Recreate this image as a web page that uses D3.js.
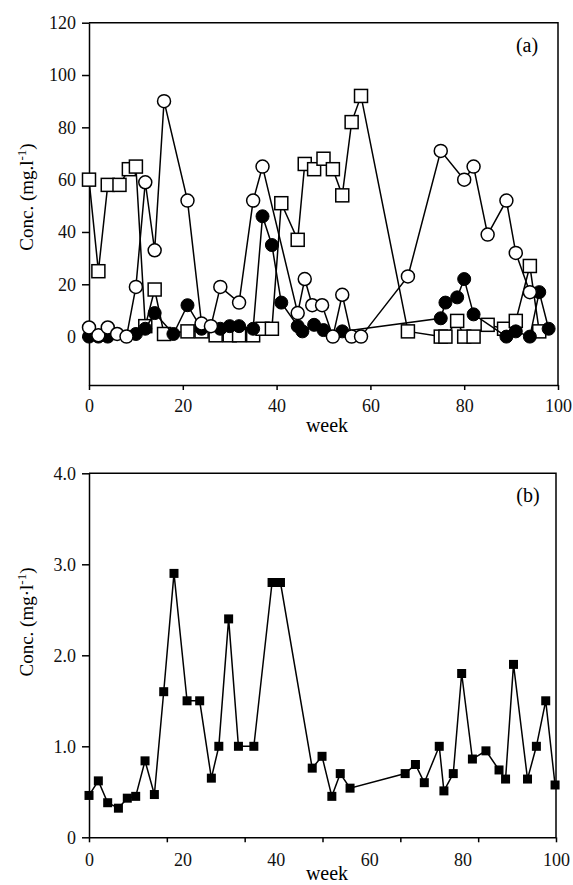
<!DOCTYPE html>
<html>
<head>
<meta charset="utf-8">
<script src="https://cdn.jsdelivr.net/npm/d3@7"></script>
<style>
  body { margin: 0; background: #fff; }
  svg { display: block; font-family: "Liberation Serif", "Times New Roman", serif; }
  .axis path, .axis line { stroke: #000; stroke-width: 1.5; }
  .axis text { font-family: "Liberation Serif", serif; font-size: 18px; fill: #111; }
</style>
</head>
<body>
<div id="chart"></div>
<script>
// panel (a) data - three series
var weeksSquare = [0, 2, 4, 6.5, 8.5, 10, 12, 14, 16, 21, 24, 27, 30, 32, 35, 37, 39, 41, 44.5, 46, 48, 50, 52, 54, 56, 58, 68, 75, 76, 78.5, 80, 82, 85, 88.5, 91, 94, 96];
var concSquare  = [60, 25, 58, 58, 64, 65, 4, 18, 1, 2, 2, 0.5, 0.5, 0.5, 0.5, 3, 3, 51, 37, 66, 64, 68, 64, 54, 82, 92, 2, 0, 0, 6, 0, 0, 4.5, 3, 6, 27, 2];

var weeksFilled = [0, 2, 4, 10, 12, 14, 18, 21, 24, 28, 30, 32, 35, 37, 39, 41, 44.5, 45.5, 48, 50, 54, 75, 76, 78.5, 80, 82, 89, 91, 94, 96, 98];
var concFilled  = [0, 0, 0, 1, 3, 9, 1, 12, 3, 3, 4, 4, 3, 46, 35, 13, 4, 2, 4.5, 2.5, 2, 7, 13, 15, 22, 8.5, 0, 2, 0, 17, 3];

var weeksOpen = [0, 2, 4, 6, 8, 10, 12, 14, 16, 21, 24, 26, 28, 32, 35, 37, 44.5, 46, 47.6, 49.7, 52, 54, 56, 58, 68, 75, 80, 82, 85, 89, 91, 94];
var concOpen  = [3.5, 0.5, 3.5, 1, 0, 19, 59, 33, 90, 52, 5, 4, 19, 13, 52, 65, 9, 22, 12, 12, 0, 16, 0, 0, 23, 71, 60, 65, 39, 52, 32, 17];

// panel (b) data
var weeksB = [0, 2, 4, 6.3, 8.2, 10, 12, 14, 16, 18.2, 21, 23.7, 26.2, 27.8, 29.9, 32, 35.3, 39.2, 41, 47.8, 49.9, 52, 53.8, 55.9, 67.7, 69.9, 71.8, 75, 76, 78, 79.8, 82.1, 85, 87.8, 89.2, 90.9, 93.9, 95.8, 97.8, 99.8];
var concB  = [0.46, 0.62, 0.38, 0.32, 0.43, 0.45, 0.84, 0.47, 1.6, 2.9, 1.5, 1.5, 0.65, 1.0, 2.4, 1.0, 1.0, 2.8, 2.8, 0.76, 0.89, 0.45, 0.70, 0.54, 0.70, 0.80, 0.60, 1.0, 0.51, 0.70, 1.80, 0.86, 0.95, 0.74, 0.64, 1.90, 0.64, 1.0, 1.5, 0.575];

// tick labels
var xTicks = [0, 20, 40, 60, 80, 100];
var yTicksA = [0, 20, 40, 60, 80, 100, 120];
var yTicksB = [0, 1, 2, 3, 4];

var svgWidth = 573;
var svgHeight = 885;

var svg = d3.select("#chart")
  .append("svg")
  .attr("width", svgWidth)
  .attr("height", svgHeight);

function zip(xs, ys) {
  return xs.map(function(x, i) { return { week: x, conc: ys[i] }; });
}

// frame: axes + top/right lines
function frame(x, y) {
  var x0 = x.range()[0], x1 = x.range()[1];
  var y0 = y.range()[0], y1 = y.range()[1];
  svg.append("path")
    .attr("d", `M${x0},${y1}H${x1}V${y0}`)
    .attr("fill", "none")
    .attr("stroke", "#000")
    .attr("stroke-width", 1.5);
}

// ---------------- panel (a) ----------------
var xA = d3.scaleLinear().domain([0, 100]).range([89, 558]);
var yA = d3.scaleLinear().domain([-18.5, 120]).range([385, 22.7]);

svg.append("g")
  .attr("class", "axis")
  .attr("transform", `translate(0, ${yA.range()[0]})`)
  .call(d3.axisBottom(xA).tickValues(xTicks).tickSize(5).tickPadding(9).tickSizeOuter(0));

svg.append("g")
  .attr("class", "axis")
  .attr("transform", `translate(${xA.range()[0]}, 0)`)
  .call(d3.axisLeft(yA).tickValues(yTicksA).tickSize(7).tickPadding(6).tickSizeOuter(0));

frame(xA, yA);

var lineA = d3.line().x(d => xA(d.week)).y(d => yA(d.conc));

// squares
var sq = zip(weeksSquare, concSquare);
svg.append("path").datum(sq)
  .attr("d", lineA).attr("fill", "none").attr("stroke", "#000").attr("stroke-width", 1.5);
svg.selectAll(".sqA").data(sq).enter().append("rect")
  .attr("class", "sqA")
  .attr("x", d => xA(d.week) - 6.5)
  .attr("y", d => yA(d.conc) - 6.5)
  .attr("width", 13).attr("height", 13)
  .attr("fill", "#fff").attr("stroke", "#000").attr("stroke-width", 1.5);

// filled circles
var fc = zip(weeksFilled, concFilled);
svg.append("path").datum(fc)
  .attr("d", lineA).attr("fill", "none").attr("stroke", "#000").attr("stroke-width", 1.5);
svg.selectAll(".fcA").data(fc).enter().append("circle")
  .attr("class", "fcA")
  .attr("cx", d => xA(d.week))
  .attr("cy", d => yA(d.conc))
  .attr("r", 6.5)
  .attr("fill", "#000").attr("stroke", "#000").attr("stroke-width", 1);

// open circles
var oc = zip(weeksOpen, concOpen);
svg.append("path").datum(oc)
  .attr("d", lineA).attr("fill", "none").attr("stroke", "#000").attr("stroke-width", 1.5);
svg.selectAll(".ocA").data(oc).enter().append("circle")
  .attr("class", "ocA")
  .attr("cx", d => xA(d.week))
  .attr("cy", d => yA(d.conc))
  .attr("r", 6.5)
  .attr("fill", "#fff").attr("stroke", "#000").attr("stroke-width", 1.5);

svg.append("text")
  .attr("x", 527).attr("y", 52)
  .attr("text-anchor", "middle")
  .style("font-size", "20px")
  .text("(a)");

svg.append("text")
  .attr("x", 327).attr("y", 432)
  .attr("text-anchor", "middle")
  .style("font-size", "20px")
  .text("week");

var titleA = svg.append("text")
  .attr("transform", "translate(33, 197) rotate(-90)")
  .attr("text-anchor", "middle")
  .style("font-size", "19px");
titleA.append("tspan").text("Conc. (mg.l");
titleA.append("tspan").attr("dy", -7).style("font-size", "13px").text("-1");
titleA.append("tspan").attr("dy", 7).text(")");

// ---------------- panel (b) ----------------
var xB = d3.scaleLinear().domain([0, 100]).range([89, 556]);
var yB = d3.scaleLinear().domain([0, 4]).range([837.3, 473.3]);

// tick marks of this panel sit at sixths, labels at every 20 weeks
svg.append("g")
  .attr("class", "axis")
  .attr("transform", `translate(0, ${yB.range()[0]})`)
  .call(d3.axisBottom(xB).tickValues(d3.range(7).map(i => i * 100 / 6)).tickSize(5).tickFormat("").tickSizeOuter(0));

svg.append("g")
  .attr("class", "axis labelsOnly")
  .attr("transform", `translate(0, ${yB.range()[0]})`)
  .call(d3.axisBottom(xB).tickValues(xTicks).tickSize(0).tickPadding(16))
  .call(g => g.select(".domain").remove());

svg.append("g")
  .attr("class", "axis")
  .attr("transform", `translate(${xB.range()[0]}, 0)`)
  .call(d3.axisLeft(yB).tickValues(yTicksB).tickSize(7).tickPadding(6).tickSizeOuter(0)
    .tickFormat(d => d === 0 ? "0" : d3.format(".1f")(d)));

frame(xB, yB);

var lineB = d3.line().x(d => xB(d.week)).y(d => yB(d.conc));
var pb = zip(weeksB, concB);
svg.append("path").datum(pb)
  .attr("d", lineB).attr("fill", "none").attr("stroke", "#000").attr("stroke-width", 1.5);
svg.selectAll(".sqB").data(pb).enter().append("rect")
  .attr("class", "sqB")
  .attr("x", d => xB(d.week) - 4.5)
  .attr("y", d => yB(d.conc) - 4.5)
  .attr("width", 9).attr("height", 9)
  .attr("fill", "#000");

svg.append("text")
  .attr("x", 528).attr("y", 502)
  .attr("text-anchor", "middle")
  .style("font-size", "20px")
  .text("(b)");

svg.append("text")
  .attr("x", 327).attr("y", 880)
  .attr("text-anchor", "middle")
  .style("font-size", "20px")
  .text("week");

var titleB = svg.append("text")
  .attr("transform", "translate(33, 622) rotate(-90)")
  .attr("text-anchor", "middle")
  .style("font-size", "19px");
titleB.append("tspan").text("Conc. (mg\u00b7l");
titleB.append("tspan").attr("dy", -7).style("font-size", "13px").text("-1");
titleB.append("tspan").attr("dy", 7).text(")");
</script>
</body>
</html>
